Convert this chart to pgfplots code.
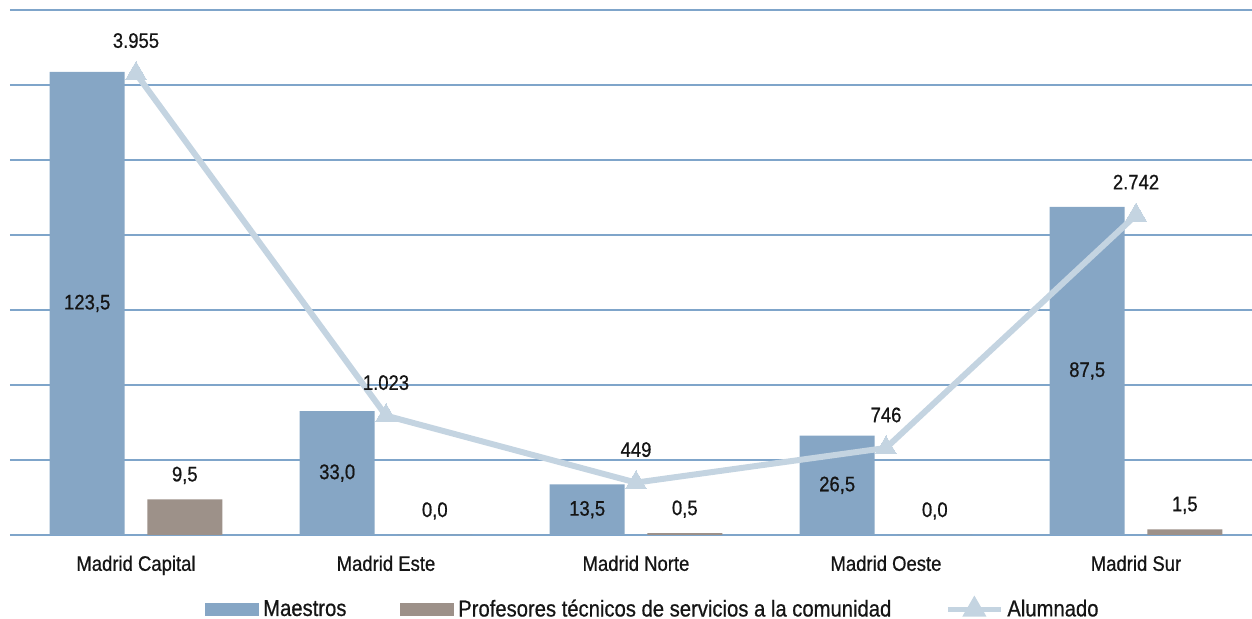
\documentclass[border=0pt]{standalone}
\usepackage{fontspec}
\setmainfont{Liberation Sans}[FakeStretch=0.88, FakeBold=0.7]
\usepackage{pgfplots}
\pgfplotsset{compat=1.18}
\definecolor{maestros}{HTML}{86A6C5}
\definecolor{ptsc}{HTML}{9D9189}
\definecolor{alum}{HTML}{C4D4E1}
\definecolor{gridblue}{HTML}{7FA5CA}
\definecolor{txt}{HTML}{151515}
\begin{document}
\begin{tikzpicture}
\useasboundingbox (0,0) rectangle (626pt,309.5pt);
\pgfplotsset{base/.style={
  scale only axis, width=621pt, height=262.5pt, at={(5pt,42pt)}, anchor=south west,
  xmin=-0.504, xmax=4.464, axis line style={draw=none}, tick style={draw=none},
  /pgf/number format/assume math mode=true, clip=false}}
\begin{axis}[base, ybar, bar width=37.5pt, ymin=0, ymax=140, ytick={0,20,...,140}, yticklabels={},
  ymajorgrids, grid style={gridblue, line width=1pt},
  xtick={0,1,2,3,4}, xticklabels={Madrid Capital, Madrid Este, Madrid Norte, Madrid Oeste, Madrid Sur},
  xticklabel style={font=\fontsize{10.5}{12}\selectfont, text=txt, yshift=-2.5pt}]
\addplot[fill=maestros, draw=none, bar shift=-24.4pt,
  nodes near coords={\pgfmathprintnumber[fixed,fixed zerofill,precision=1,use comma]{\pgfplotspointmeta}},
  visualization depends on={rawy \as \rawy},
  every node near coord/.append style={anchor=center, text=txt, font=\fontsize{10.5}{12}\selectfont, yshift=-\rawy*0.9375pt}]
  coordinates {(0,123.5) (1,33.0) (2,13.5) (3,26.5) (4,87.5)};
\addplot[fill=ptsc, draw=none, bar shift=24.4pt,
  nodes near coords={\pgfmathprintnumber[fixed,fixed zerofill,precision=1,use comma]{\pgfplotspointmeta}},
  every node near coord/.append style={anchor=center, text=txt, font=\fontsize{10.5}{12}\selectfont, yshift=12pt}]
  coordinates {(0,9.5) (1,0.0) (2,0.5) (3,0.0) (4,1.5)};
\end{axis}
\begin{axis}[base, ymin=0, ymax=4500, xtick=\empty, ytick=\empty,
  legend columns=3,
  legend style={draw=none, fill=none, at={(0.5185,-0.142)}, anchor=center,
    font=\fontsize{11.5}{13}\selectfont, text=txt, /tikz/every even column/.append style={column sep=25pt}},
  legend cell align=left]
\addlegendimage{legend image code/.code={\fill[maestros] (0pt,-3pt) rectangle (26.5pt,3pt);}}
\addlegendentry{Maestros}
\addlegendimage{legend image code/.code={\fill[ptsc] (0pt,-3pt) rectangle (26.5pt,3pt);}}
\addlegendentry{Profesores técnicos de servicios a la comunidad}
\addplot[alum, line width=3pt, mark=triangle*, mark size=6pt, mark options={fill=alum, draw=alum, line width=0pt},
  nodes near coords={\pgfmathprintnumber[fixed,precision=0,1000 sep={.}]{\pgfplotspointmeta}},
  every node near coord/.append style={anchor=center, text=txt, font=\fontsize{10.5}{12}\selectfont, yshift=16.5pt},
  legend image code/.code={\draw[alum, line width=2.5pt] (0pt,0pt) -- (26.5pt,0pt);
    \fill[alum] (13.25pt,4pt) -- (9.8pt,-2pt) -- (16.7pt,-2pt) -- cycle;}]
  coordinates {(0,3955) (1,1023) (2,449) (3,746) (4,2742)};
\addlegendentry{Alumnado}
\end{axis}
\end{tikzpicture}
\end{document}
